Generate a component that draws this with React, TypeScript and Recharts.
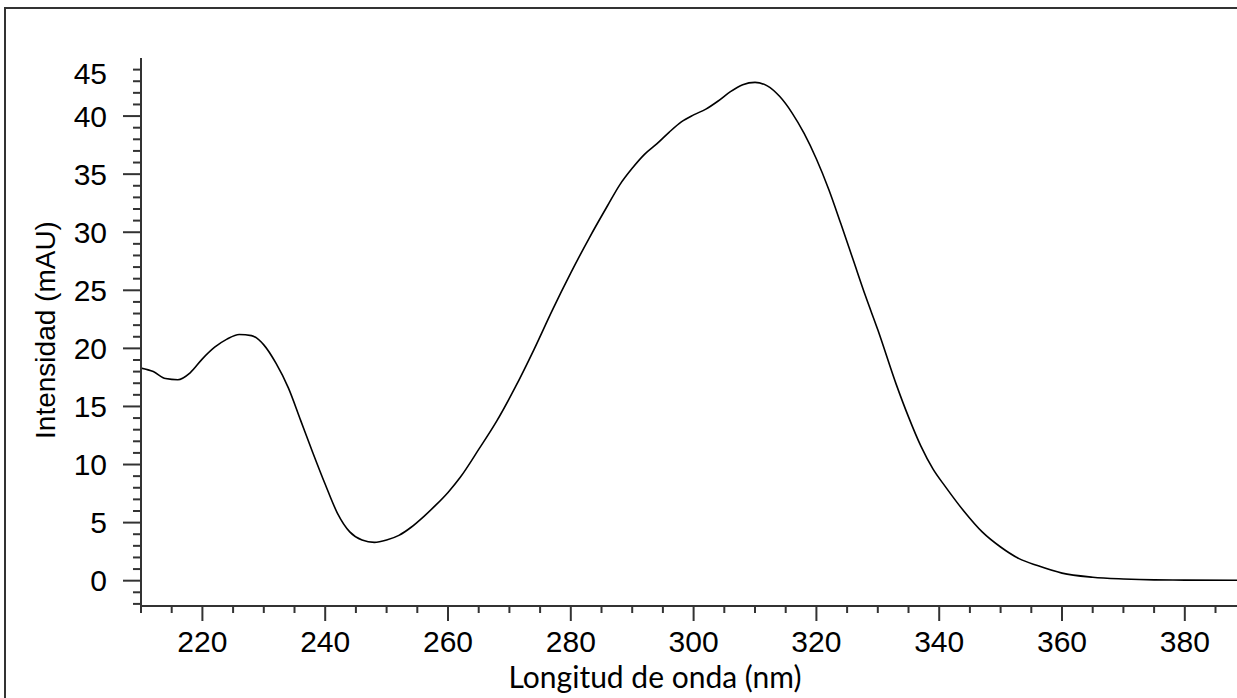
import React from 'react';
import { Line, LineChart, XAxis, YAxis } from 'recharts';

// wavelength (nm) and absorbance (mAU)
const WAVELENGTH = [
  210, 212, 214, 216, 218, 220, 222, 224, 226, 228, 230, 232, 234, 236, 238, 240, 242, 244, 246, 248,
  250, 252, 254, 256, 258, 260, 262, 265, 268, 271, 274, 277, 280, 283, 286, 288, 290, 292, 294, 296,
  298, 300, 302, 304, 306, 308, 310, 312, 314, 316, 318, 320, 322, 324, 326, 328, 330, 333, 335, 337,
  339, 341, 344, 347, 350, 353, 356, 360, 365, 370, 375, 380, 388.5,
];
const INTENSITY = [
  18.3, 18.0, 17.4, 17.3, 17.9, 19.1, 20.1, 20.8, 21.2, 21.1, 20.3, 18.7, 16.6, 13.8, 11.0, 8.3, 5.8, 4.2, 3.5, 3.3,
  3.5, 3.9, 4.6, 5.5, 6.5, 7.6, 8.9, 11.3, 13.8, 16.7, 19.9, 23.3, 26.5, 29.5, 32.3, 34.1, 35.5, 36.7, 37.6, 38.6,
  39.5, 40.1, 40.6, 41.3, 42.1, 42.7, 42.9, 42.6, 41.7, 40.3, 38.5, 36.3, 33.7, 30.7, 27.6, 24.5, 21.6, 16.9, 14.1, 11.6,
  9.6, 8.1, 6.0, 4.2, 2.9, 1.9, 1.3, 0.65, 0.3, 0.15, 0.07, 0.05, 0.04,
];

const X_LABELS = [220, 240, 260, 280, 300, 320, 340, 360, 380];
const Y_LABELS = [0, 5, 10, 15, 20, 25, 30, 35, 40, 45];

const X_DOMAIN: [number, number] = [210, 388.5];
const Y_DOMAIN: [number, number] = [-2.18, 45];

const data = WAVELENGTH.map((w, i) => ({ w, v: INTENSITY[i] }));

// every 5 nm / every 1 mAU gets a tick, labelled ones are drawn longer
const xTicks: number[] = [];
for (let t = 210; t <= 385; t += 5) xTicks.push(t);
const yTicks: number[] = [];
for (let t = -2; t <= 45; t += 1) yTicks.push(t);

const AXIS = '#333';
const TICK_FONT = { fontFamily: '"Liberation Sans", Arial, sans-serif', fontSize: 30, fill: '#000' };

function YTick({ x, y, payload }: any) {
  const v = payload.value as number;
  const major = Y_LABELS.includes(v);
  const len = major ? 18 : 8;
  return (
    <g>
      {v !== 45 && <line x1={x - len} x2={x} y1={y} y2={y} stroke={AXIS} strokeWidth={2} />}
      {major && (
        <text x={x - 34} y={v === 45 ? y + 15 : y} textAnchor="end" dominantBaseline="central" {...TICK_FONT}>
          {v}
        </text>
      )}
    </g>
  );
}

function XTick({ x, y, payload }: any) {
  const v = payload.value as number;
  const major = X_LABELS.includes(v);
  const len = major ? 15 : 7;
  return (
    <g>
      <line x1={x} x2={x} y1={y} y2={y + len} stroke={AXIS} strokeWidth={2} />
      {major && (
        <text x={x} y={y + 35} textAnchor="middle" dominantBaseline="central" {...TICK_FONT}>
          {v}
        </text>
      )}
    </g>
  );
}

export default function App() {
  return (
    <div style={{ position: 'absolute', left: 0, top: 0, width: 1237, height: 698, background: '#fff' }}>
      <div
        style={{
          position: 'absolute',
          left: 4,
          top: 7,
          right: 0,
          bottom: 0,
          borderTop: '2px solid #333',
          borderLeft: '2px solid #333',
        }}
      />
      <LineChart
        width={1237}
        height={698}
        data={data}
        margin={{ top: 58, right: 0, bottom: 0, left: 0 }}
        style={{ position: 'absolute', left: 0, top: 0 }}
      >
        <XAxis
          type="number"
          dataKey="w"
          domain={X_DOMAIN}
          allowDataOverflow
          ticks={xTicks}
          interval={0}
          height={92}
          tickSize={0}
          tickMargin={0}
          tickLine={false}
          axisLine={{ stroke: AXIS, strokeWidth: 2 }}
          tick={<XTick />}
          label={{
            content: () => (
              <text
                x={655}
                y={676}
                textAnchor="middle"
                dominantBaseline="central"
                fontFamily="Lato, sans-serif"
                fontSize={30}
                fill="#000"
              >
                Longitud de onda (nm)
              </text>
            ),
          }}
        />
        <YAxis
          type="number"
          domain={Y_DOMAIN}
          allowDataOverflow
          ticks={yTicks}
          interval={0}
          width={141}
          tickSize={0}
          tickMargin={0}
          tickLine={false}
          axisLine={{ stroke: AXIS, strokeWidth: 2 }}
          tick={<YTick />}
          label={{
            content: () => (
              <text
                x={45}
                y={330}
                transform="rotate(-90, 45, 330)"
                textAnchor="middle"
                dominantBaseline="central"
                fontFamily='"Liberation Sans", Arial, sans-serif'
                fontSize={28}
                fill="#000"
              >
                Intensidad (mAU)
              </text>
            ),
          }}
        />
        <Line
          type="monotone"
          dataKey="v"
          stroke="#000"
          strokeWidth={1.6}
          dot={false}
          isAnimationActive={false}
        />
      </LineChart>
    </div>
  );
}
